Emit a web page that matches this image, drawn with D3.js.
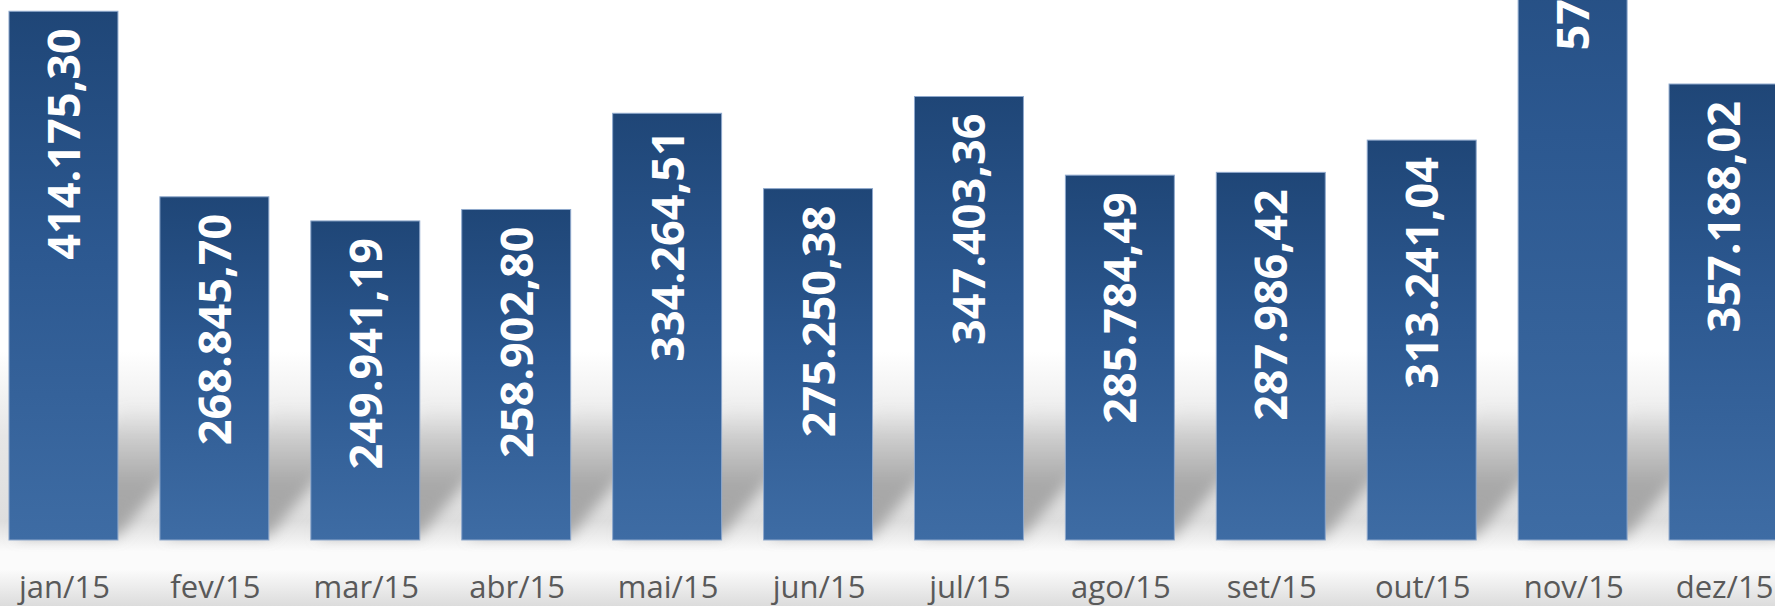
<!DOCTYPE html>
<html>
<head>
<meta charset="utf-8">
<script src="https://cdn.jsdelivr.net/npm/d3@7"></script>
<style>
  html, body { margin: 0; padding: 0; background: #ffffff; overflow: hidden; }
  #chart { width: 1775px; height: 606px; }
</style>
</head>
<body>
<div id="chart"></div>
<script>
// monthly totals, 2015
const months = ["jan/15", "fev/15", "mar/15", "abr/15", "mai/15", "jun/15",
                "jul/15", "ago/15", "set/15", "out/15", "nov/15", "dez/15"];
// nov/15 label is cut off in the source ("57...")
const totals = [414175.30, 268845.70, 249941.19, 258902.80, 334264.51, 275250.38,
                347403.36, 285784.49, 287986.42, 313241.04, 578130.00, 357188.02];
const yMax = 423000;

const width = 1775, height = 606;
const baseY = 540;

const br = d3.formatLocale({decimal: ",", thousands: ".", grouping: [3], currency: ["R$", ""]});
const fmt = br.format(",.2f");

const data = months.map((m, i) => ({month: m, value: totals[i]}));

const svg = d3.select("#chart")
    .append("svg")
    .attr("width", width)
    .attr("height", height);

const defs = svg.append("defs");

// background: soft grey floor band + light grey at the very bottom
const bg = defs.append("linearGradient")
    .attr("id", "bg-grad")
    .attr("x1", 0).attr("y1", 0).attr("x2", 0).attr("y2", 1);
[[0, "#ffffff"], [0.58, "#ffffff"], [0.72, "#e6e6e6"], [0.86, "#dedede"],
 [0.91, "#fbfbfb"], [0.94, "#fbfbfb"], [1, "#dcdcdc"]].forEach(s => {
    bg.append("stop").attr("offset", s[0]).attr("stop-color", s[1]);
});

const barGrad = defs.append("linearGradient")
    .attr("id", "bar-grad")
    .attr("x1", 0).attr("y1", 0).attr("x2", 0).attr("y2", 1);
barGrad.append("stop").attr("offset", 0).attr("stop-color", "#1f4677");
barGrad.append("stop").attr("offset", 0.45).attr("stop-color", "#2c5890");
barGrad.append("stop").attr("offset", 1).attr("stop-color", "#3e6ca4");

const shGrad = defs.append("linearGradient")
    .attr("id", "sh-grad")
    .attr("x1", 0).attr("y1", 0).attr("x2", 0).attr("y2", 1);
shGrad.append("stop").attr("offset", 0).attr("stop-color", "#9a9a9a").attr("stop-opacity", 0);
shGrad.append("stop").attr("offset", 0.6).attr("stop-color", "#9a9a9a").attr("stop-opacity", 0.8);
shGrad.append("stop").attr("offset", 1).attr("stop-color", "#a0a0a0").attr("stop-opacity", 0.9);

defs.append("filter")
    .attr("id", "blur")
    .attr("x", "-50%").attr("y", "-50%").attr("width", "200%").attr("height", "200%")
    .append("feGaussianBlur")
    .attr("stdDeviation", 7);

svg.append("rect")
    .attr("width", width)
    .attr("height", height)
    .attr("fill", "url(#bg-grad)");

const x = d3.scaleBand()
    .domain(months)
    .range([-12, 1799])
    .paddingInner(0.278)
    .paddingOuter(0.139);

const y = d3.scaleLinear()
    .domain([0, yMax])
    .range([baseY, 0]);

// diagonal floor shadows behind the bars
const shH = 130, skew = 0.85;
svg.append("g")
    .selectAll("polygon")
    .data(data)
    .enter()
    .append("polygon")
    .attr("points", d => {
        const x0 = x(d.month) + 6, x1 = x(d.month) + x.bandwidth();
        const b = y(0) - 4;
        return [[x0, b], [x1, b], [x1 + skew * shH, b - shH], [x0 + skew * shH, b - shH]]
            .map(p => p.join(",")).join(" ");
    })
    .attr("fill", "url(#sh-grad)")
    .attr("filter", "url(#blur)");

svg.append("g")
    .selectAll("rect")
    .data(data)
    .enter()
    .append("rect")
    .attr("x", d => x(d.month))
    .attr("y", d => y(d.value))
    .attr("width", x.bandwidth())
    .attr("height", d => y(0) - y(d.value))
    .attr("fill", "url(#bar-grad)")
    .style("stroke", "#8ea8cc")
    .style("stroke-width", "1px");

// value labels, rotated, anchored near the top of each bar
svg.append("g")
    .selectAll("text")
    .data(data)
    .enter()
    .append("text")
    .attr("transform", d => "translate(" + (x(d.month) + x.bandwidth() / 2 - 1) + "," + (y(d.value) + 17) + ") rotate(-90)")
    .attr("text-anchor", "end")
    .attr("dominant-baseline", "central")
    .style("font-family", "'Open Sans', sans-serif")
    .style("font-weight", "bold")
    .style("font-size", "45px")
    .style("fill", "#ffffff")
    .text(d => fmt(d.value));

// month labels
svg.append("g")
    .selectAll("text")
    .data(data)
    .enter()
    .append("text")
    .attr("x", d => x(d.month) + x.bandwidth() / 2 + 1)
    .attr("y", 598)
    .attr("text-anchor", "middle")
    .style("font-family", "'Open Sans', sans-serif")
    .style("font-size", "31px")
    .style("fill", "#595959")
    .text(d => d.month);
</script>
</body>
</html>
